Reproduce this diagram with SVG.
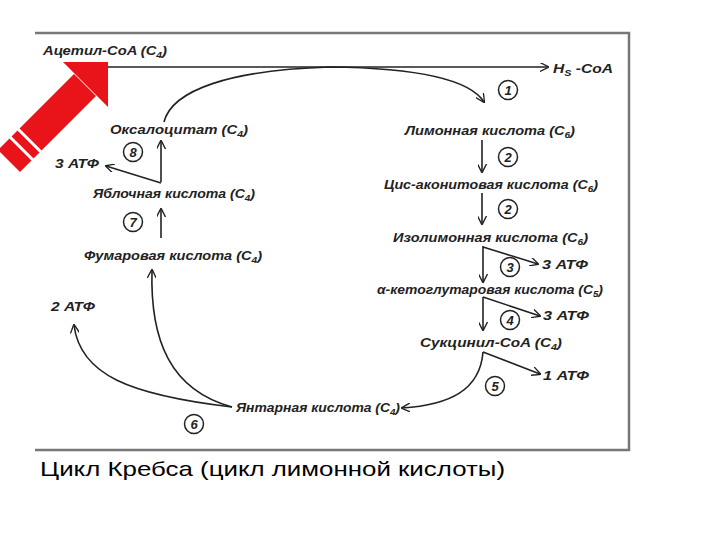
<svg xmlns="http://www.w3.org/2000/svg" width="720" height="540" viewBox="0 0 720 540">
<style>
.t{font-family:"Liberation Sans",Arial,sans-serif;font-size:13px;font-style:italic;font-weight:bold;fill:#222}
.s{font-size:9px}
.c{fill:none;stroke:#222;stroke-width:1.5}
.n{font-family:"Liberation Sans",Arial,sans-serif;font-size:13px;font-style:italic;font-weight:bold;text-anchor:middle;fill:#222}
.l{fill:none;stroke:#222;stroke-width:1.6}
</style>
<defs>
<marker id="a" viewBox="0 0 10 10" refX="9" refY="5" markerWidth="9" markerHeight="9" orient="auto" markerUnits="userSpaceOnUse">
<path d="M0,0 L10,5 L0,10" fill="none" stroke="#222" stroke-width="1.5"/>
</marker>
</defs>
<rect width="720" height="540" fill="#fff"/>
<g id="frame" fill="none" stroke="#777" stroke-width="2.5">
<path d="M35,33 H629 V450 H35"/>
</g>
<g id="bigarrow">
<polygon points="108,62 63,62 108,107" fill="#e8141a"/>
<polygon points="74,74 96,96 20,172 -2,150" fill="#e8141a"/>
<line x1="16" y1="127" x2="43" y2="154" stroke="#fff" stroke-width="3"/>
<line x1="8" y1="135" x2="35" y2="162" stroke="#fff" stroke-width="3"/>
</g>
<g id="connectors">
<path class="l" d="M108,67 H548" marker-end="url(#a)"/>
<path class="l" d="M164,122 C172,90 230,70 330,67 C420,68 470,80 484,102" marker-end="url(#a)"/>
<path class="l" d="M161,182 V141" marker-end="url(#a)"/>
<path class="l" d="M161,183 L106,166" marker-end="url(#a)"/>
<path class="l" d="M161,238 V209" marker-end="url(#a)"/>
<path class="l" d="M232,407 C170,390 150,340 152,270" marker-end="url(#a)"/>
<path class="l" d="M232,407 C130,395 80,375 74,325" marker-end="url(#a)"/>
<path class="l" d="M482,140 V172" marker-end="url(#a)"/>
<path class="l" d="M482,193 V224" marker-end="url(#a)"/>
<path class="l" d="M483,246 V282" marker-end="url(#a)"/>
<path class="l" d="M483,247 L538,264" marker-end="url(#a)"/>
<path class="l" d="M483,297 V330" marker-end="url(#a)"/>
<path class="l" d="M483,297 L540,316" marker-end="url(#a)"/>
<path class="l" d="M483,352 C480,390 450,405 402,408" marker-end="url(#a)"/>
<path class="l" d="M483,352 L540,374" marker-end="url(#a)"/>
</g>
<g id="labels" >
<text class="t" x="43" y="55" textLength="124" lengthAdjust="spacingAndGlyphs">Ацетил-CoA (C<tspan class="s" dy="3">4</tspan><tspan dy="-3">)</tspan></text>
<text class="t" x="553" y="73" textLength="60" lengthAdjust="spacingAndGlyphs">H<tspan class="s" dy="3">S</tspan><tspan dy="-3"> -CoA</tspan></text>
<text class="t" x="110" y="134" textLength="138" lengthAdjust="spacingAndGlyphs">Оксалоцитат (C<tspan class="s" dy="3">4</tspan><tspan dy="-3">)</tspan></text>
<text class="t" x="55" y="168" textLength="44" lengthAdjust="spacingAndGlyphs">3 АТФ</text>
<text class="t" x="93" y="198" textLength="162" lengthAdjust="spacingAndGlyphs">Яблочная кислота (C<tspan class="s" dy="3">4</tspan><tspan dy="-3">)</tspan></text>
<text class="t" x="84" y="260" textLength="178" lengthAdjust="spacingAndGlyphs">Фумаровая кислота (C<tspan class="s" dy="3">4</tspan><tspan dy="-3">)</tspan></text>
<text class="t" x="51" y="311" textLength="44" lengthAdjust="spacingAndGlyphs">2 АТФ</text>
<text class="t" x="236" y="412" textLength="164" lengthAdjust="spacingAndGlyphs">Янтарная кислота (C<tspan class="s" dy="3">4</tspan><tspan dy="-3">)</tspan></text>
<text class="t" x="405" y="135" textLength="170" lengthAdjust="spacingAndGlyphs">Лимонная кислота (C<tspan class="s" dy="3">6</tspan><tspan dy="-3">)</tspan></text>
<text class="t" x="384" y="189" textLength="214" lengthAdjust="spacingAndGlyphs">Цис-аконитовая кислота (C<tspan class="s" dy="3">6</tspan><tspan dy="-3">)</tspan></text>
<text class="t" x="393" y="242" textLength="195" lengthAdjust="spacingAndGlyphs">Изолимонная кислота (C<tspan class="s" dy="3">6</tspan><tspan dy="-3">)</tspan></text>
<text class="t" x="542" y="269" textLength="46" lengthAdjust="spacingAndGlyphs">3 АТФ</text>
<text class="t" x="377" y="294" textLength="226" lengthAdjust="spacingAndGlyphs">α-кетоглутаровая кислота (C<tspan class="s" dy="3">5</tspan><tspan dy="-3">)</tspan></text>
<text class="t" x="543" y="320" textLength="46" lengthAdjust="spacingAndGlyphs">3 АТФ</text>
<text class="t" x="420" y="347" textLength="142" lengthAdjust="spacingAndGlyphs">Сукцинил-CoA  (C<tspan class="s" dy="3">4</tspan><tspan dy="-3">)</tspan></text>
<text class="t" x="543" y="380" textLength="46" lengthAdjust="spacingAndGlyphs">1 АТФ</text>
</g>
<g id="steps">
<circle class="c" cx="508" cy="90" r="9.5"/><text class="n" x="508" y="95">1</text>
<circle class="c" cx="508" cy="157" r="9.5"/><text class="n" x="508" y="162">2</text>
<circle class="c" cx="508" cy="209" r="9.5"/><text class="n" x="508" y="214">2</text>
<circle class="c" cx="510" cy="267" r="9.5"/><text class="n" x="510" y="272">3</text>
<circle class="c" cx="510" cy="320" r="9.5"/><text class="n" x="510" y="325">4</text>
<circle class="c" cx="495" cy="386" r="9.5"/><text class="n" x="495" y="391">5</text>
<circle class="c" cx="194" cy="424" r="9.5"/><text class="n" x="194" y="429">6</text>
<circle class="c" cx="133" cy="222" r="9.5"/><text class="n" x="133" y="227">7</text>
<circle class="c" cx="133" cy="152" r="9.5"/><text class="n" x="133" y="157">8</text>
</g>
<text x="40" y="476" font-family="Liberation Sans,Arial,sans-serif" font-size="21" fill="#000" textLength="465" lengthAdjust="spacingAndGlyphs">Цикл Кребса (цикл лимонной кислоты)</text>
</svg>
